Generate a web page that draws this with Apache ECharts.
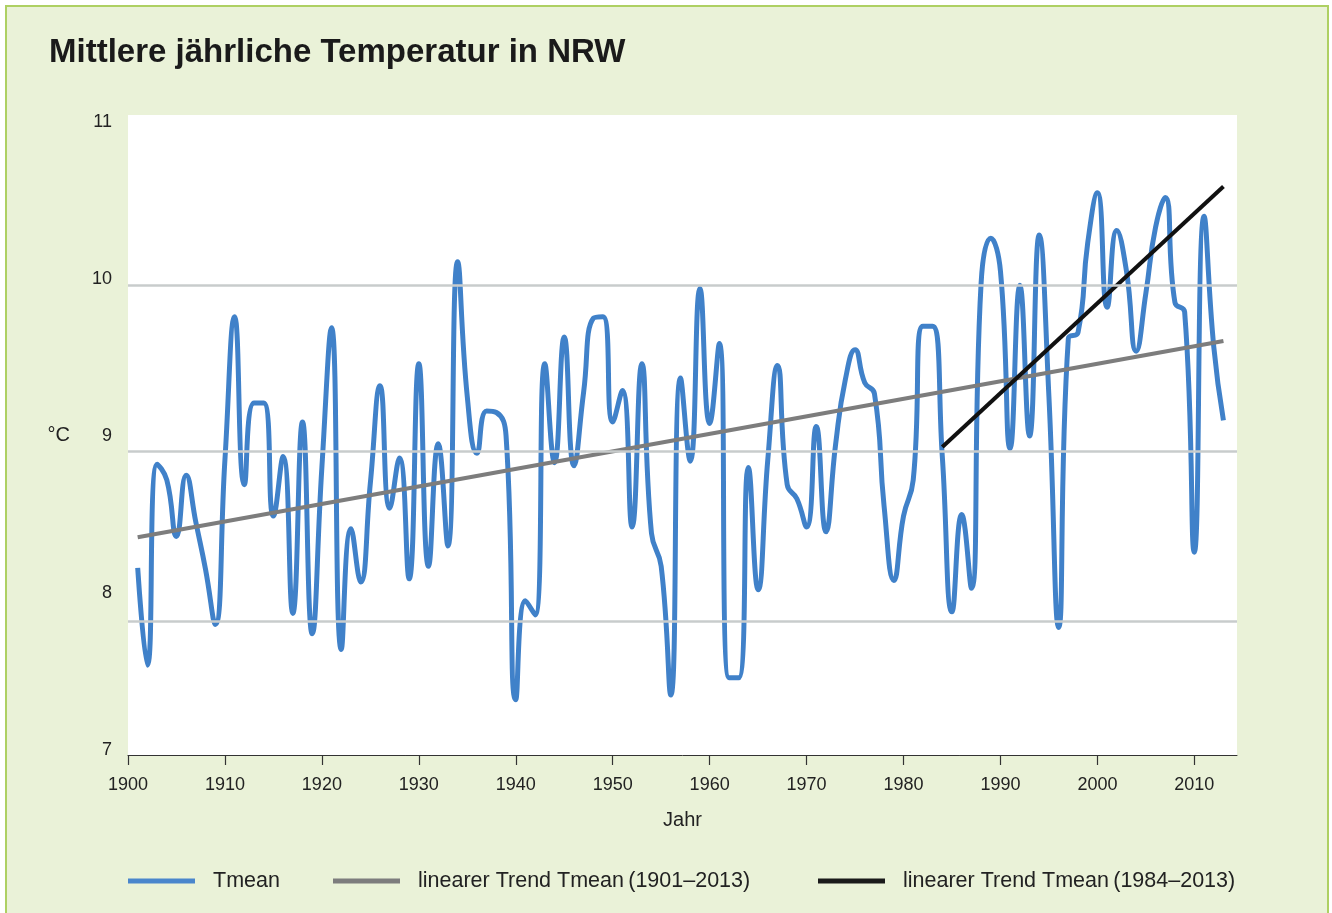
<!DOCTYPE html>
<html><head><meta charset="utf-8">
<script src="https://cdn.jsdelivr.net/npm/echarts@6/dist/echarts.min.js"></script>
<style>
html,body{margin:0;padding:0;background:#fff;}
#bg{position:absolute;left:5px;top:5px;width:1324px;height:912px;box-sizing:border-box;background:#eaf2d8;border-left:2px solid #aed063;border-top:2px solid #aed063;border-right:2px solid #aed063;}
#chart{position:absolute;left:0;top:0;width:1332px;height:913px;}
</style></head>
<body><div id="bg"></div><div id="chart"></div>
<script>
const titleText = 'Mittlere jährliche Temperatur in NRW';
const firstYear = 1901;
const tmean = [
  8.16, 7.54, 8.82, 8.72, 8.36, 8.75, 8.45, 8.15, 7.80, 8.85,   // 1901-1910
  9.76, 8.69, 9.21, 9.21, 8.49, 8.87, 7.87, 9.09, 7.74, 8.80,   // 1911-1920
  9.69, 7.64, 8.41, 8.07, 8.70, 9.32, 8.54, 8.86, 8.09, 9.46,   // 1921-1930
  8.17, 8.95, 8.30, 10.11, 9.25, 8.89, 9.16, 9.15, 9.00, 7.32,  // 1931-1940
  7.95, 7.86, 9.46, 8.83, 9.63, 8.81, 9.28, 9.75, 9.76, 9.09,   // 1941-1950
  9.29, 8.42, 9.46, 8.38, 8.17, 7.35, 9.37, 8.84, 9.94, 9.08,   // 1951-1960
  9.59, 7.46, 7.46, 8.80, 8.02, 8.85, 9.45, 8.69, 8.60, 8.42,   // 1961-1970
  9.06, 8.39, 8.95, 9.36, 9.55, 9.34, 9.27, 8.55, 8.08, 8.49,   // 1971-1980
  8.72, 9.70, 9.70, 8.87, 7.88, 8.50, 8.03, 9.97, 10.26, 10.05, // 1981-1990
  8.92, 9.96, 9.00, 10.28, 9.25, 7.78, 9.62, 9.66, 10.23, 10.55,// 1991-2000
  9.82, 10.31, 10.05, 9.54, 9.91, 10.33, 10.52, 9.85, 9.79, 8.26,// 2001-2010
  10.40, 9.57, 9.10                                              // 2011-2013
];
const trendAll = [[1901, 8.355], [2013, 9.605]];
const trendRecent = [[1984, 8.93], [2013, 10.59]];
const gridLevels = [7.815, 8.898, 9.962];
const xTicks = [1900, 1910, 1920, 1930, 1940, 1950, 1960, 1970, 1980, 1990, 2000, 2010];
const yTicks = [7, 8, 9, 10, 11];
const seriesNames = ['Tmean', 'linearer Trend Tmean\u2009(1901–2013)', 'linearer Trend Tmean\u2009(1984–2013)'];

const tmeanData = tmean.map((v, i) => [firstYear + i, v]);
const FONT = "'Liberation Sans', Arial, sans-serif";
const chart = echarts.init(document.getElementById('chart'), null, {renderer: 'canvas'});
const legendBase = {
  orient: 'horizontal', top: 865, itemWidth: 67, itemHeight: 5, icon: 'rect',
  textStyle: {fontFamily: FONT, fontSize: 21.5, color: '#222', padding: [0, 0, 0, 13]},
  selectedMode: false
};
chart.setOption({
  backgroundColor: 'transparent',
  animation: false,
  title: {
    text: titleText, left: 44, top: 31,
    textStyle: {fontFamily: FONT, fontWeight: 'bold', fontSize: 33, color: '#1a1a1a'}
  },
  legend: [
    Object.assign({}, legendBase, {left: 123, data: [seriesNames[0]]}),
    Object.assign({}, legendBase, {left: 328, data: [seriesNames[1]]}),
    Object.assign({}, legendBase, {left: 813, data: [seriesNames[2]]})
  ],
  grid: {left: 128, right: 95, top: 115, bottom: 158, show: true, backgroundColor: '#ffffff', borderWidth: 0},
  xAxis: {
    type: 'value', min: 1900, max: 2014.4,
    name: 'Jahr', nameLocation: 'middle', nameGap: 55,
    nameTextStyle: {fontFamily: FONT, fontSize: 20, color: '#222'},
    axisLine: {show: true, lineStyle: {color: '#333', width: 1}},
    axisTick: {show: true, inside: false, length: 10, customValues: xTicks, lineStyle: {color: '#333', width: 1.2}},
    axisLabel: {customValues: xTicks, margin: 21, fontFamily: FONT, fontSize: 18, color: '#222', formatter: v => String(v)},
    splitLine: {show: false}
  },
  yAxis: {
    type: 'value', min: 6.968, max: 11.045,
    name: '°C', nameLocation: 'middle', nameGap: 58, nameRotate: 0,
    nameTextStyle: {fontFamily: FONT, fontSize: 20, color: '#222'},
    axisLine: {show: false}, axisTick: {show: false},
    axisLabel: {customValues: yTicks, margin: 16, fontFamily: FONT, fontSize: 18, color: '#222', formatter: v => String(v)},
    splitLine: {show: false}
  },
  series: [
    {
      name: 'grid', type: 'line', data: [], z: 1, silent: true,
      markLine: {
        silent: true, symbol: ['none', 'none'], label: {show: false},
        lineStyle: {type: 'solid', color: '#c8cccc', width: 2.5},
        data: gridLevels.map(v => ({yAxis: v}))
      }
    },
    {
      name: seriesNames[0], type: 'line', data: tmeanData, smooth: 0.5, showSymbol: false, z: 2,
      lineStyle: {color: '#4081c9', width: 5}, itemStyle: {color: '#4a86cc'}
    },
    {
      name: seriesNames[1], type: 'line', data: trendAll, showSymbol: false, z: 3,
      lineStyle: {color: '#7d7d7d', width: 4}, itemStyle: {color: '#7d7d7d'}
    },
    {
      name: seriesNames[2], type: 'line', data: trendRecent, showSymbol: false, z: 4,
      lineStyle: {color: '#111111', width: 4}, itemStyle: {color: '#1a1a1a'}
    }
  ]
});
</script></body></html>
